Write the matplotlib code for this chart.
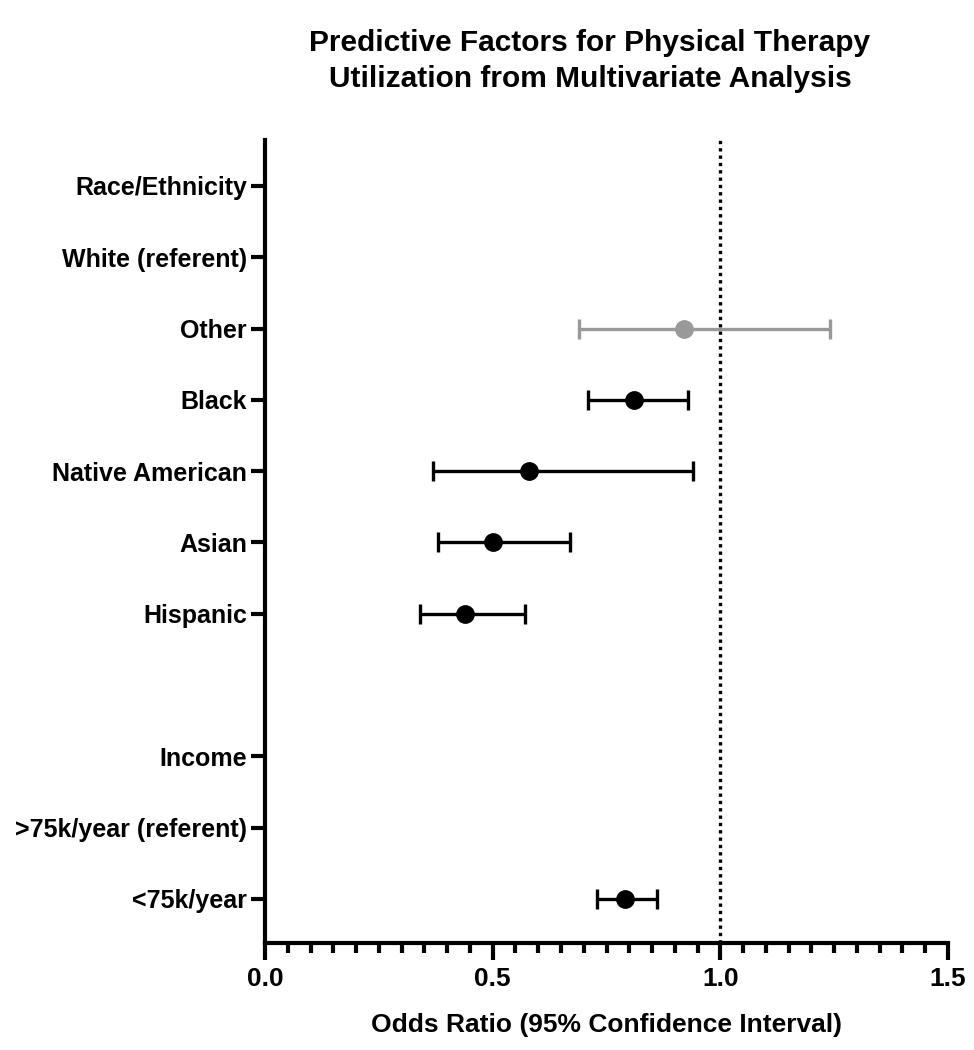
import numpy as np
import matplotlib.pyplot as plt
from matplotlib.ticker import MultipleLocator

plt.rcParams['font.family'] = ['Liberation Sans', 'DejaVu Sans']
plt.rcParams['font.weight'] = 'bold'

labels = ['Race/Ethnicity', 'White (referent)', 'Other', 'Black', 'Native American',
          'Asian', 'Hispanic', '', 'Income', '>75k/year (referent)', '<75k/year']
odds = [np.nan, np.nan, 0.92, 0.81, 0.58, 0.50, 0.44, np.nan, np.nan, np.nan, 0.79]
lower = [np.nan, np.nan, 0.69, 0.71, 0.37, 0.38, 0.34, np.nan, np.nan, np.nan, 0.73]
upper = [np.nan, np.nan, 1.24, 0.93, 0.94, 0.67, 0.57, np.nan, np.nan, np.nan, 0.86]
colors = ['k', 'k', '#999999', 'k', 'k', 'k', 'k', 'k', 'k', 'k', 'k']
xticks = [0.0, 0.5, 1.0, 1.5]

fig = plt.figure(figsize=(9.74, 10.5), dpi=100)
ax = fig.add_axes([265/974, 1 - 943/1050, 683/974, 803/1050])

ax.axvline(1.0, color='k', ls=(0, (1.0, 1.2)), lw=2.4, zorder=1)

for i in range(len(labels)):
    if np.isnan(odds[i]):
        continue
    err = [[odds[i] - lower[i]], [upper[i] - odds[i]]]
    ax.errorbar(odds[i], i, xerr=err, fmt='o', color=colors[i], ms=12.5,
                elinewidth=2.4, capsize=7.5, capthick=2.4, zorder=3)

ax.set_xlim(0, 1.5)
ax.set_ylim(10.62, -0.645)
ax.set_yticks([i for i in range(len(labels)) if labels[i]])
ax.set_yticklabels([l for l in labels if l], fontsize=18, fontweight='bold')
ax.set_xticks(xticks)
ax.set_xticklabels([f'{t:.1f}' for t in xticks], fontsize=19, fontweight='bold')
ax.xaxis.set_minor_locator(MultipleLocator(0.05))
ax.tick_params(axis='x', which='major', length=12, width=3, direction='out', pad=5)
ax.tick_params(axis='x', which='minor', length=7, width=3, direction='out')
ax.tick_params(axis='y', which='major', length=10, width=3, direction='out', pad=3)

for s in ['top', 'right']:
    ax.spines[s].set_visible(False)
for s in ['left', 'bottom']:
    ax.spines[s].set_linewidth(3)

ax.set_xlabel('Odds Ratio (95% Confidence Interval)', fontsize=19, fontweight='bold', labelpad=16)

fig.text(590/974, 1 - 61/1050, 'Predictive Factors for Physical Therapy\nUtilization from Multivariate Analysis',
         ha='center', va='center', fontsize=21.5, fontweight='bold', linespacing=1.35)

fig.savefig('out.png', dpi=100)
